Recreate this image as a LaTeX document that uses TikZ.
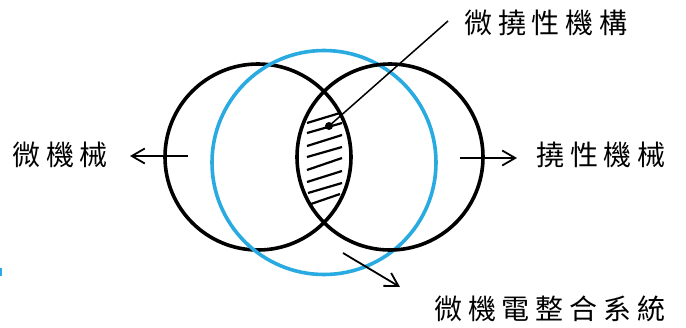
\documentclass[tikz,border=0pt]{standalone}
\usepackage{fontspec}
\newfontfamily\cjk[LetterSpace=21]{Noto Sans CJK TC}
\usetikzlibrary{arrows.meta}
\definecolor{ringblue}{HTML}{29AAE1}
\begin{document}
\begin{tikzpicture}[x=1pt,y=-1pt,
  ring/.style={circle, draw=black, line width=3.6pt, inner sep=0pt, minimum size=186pt},
  bluering/.style={circle, draw=ringblue, line width=3.6pt, inner sep=0pt, minimum size=224pt},
  arr/.style={line width=1.8pt, -{Straight Barb[length=13pt,width=15pt]}},
  hatch/.style={line width=2.2pt},
  lead/.style={line width=1.5pt},
  lbl/.style={inner sep=0pt, anchor=west, font=\cjk\fontsize{28}{31}\selectfont}]
\useasboundingbox (0,0) rectangle (686,327);
% rings
\node[ring] (L) at (258,157) {};
\node[bluering] (B) at (324,162.5) {};
\node[ring] (R) at (390,157) {};
% hatching in lens
\foreach \ya/\yb/\xa/\xb in {123/113/307/340, 133/123/307/342, 146/135/307/342, 157/147/307/342, 170/158/307/342, 182/171/307/342, 193/183/308/342, 204/194/311/340}
  \draw[hatch] (\xa,\ya) -- (\xb,\yb);
% dot and leader
\node[circle, fill=black, inner sep=0pt, minimum size=8pt] (dot) at (329,126) {};
\coordinate (leadend) at (448,21);
\draw[lead] (dot.center) -- (leadend);
% labels
\node[lbl] (t1) at (464,22.5) {微撓性機構};
\node[lbl] (t2) at (12,155) {微機械};
\node[lbl] (t3) at (536,155) {撓性機械};
\node[lbl] (t4) at (434,309) {微機電整合系統};
% arrows
\coordinate (la) at (188,156);
\coordinate (lb) at (130,156);
\draw[arr] (la) -- (lb);
\coordinate (ra) at (460,158);
\coordinate (rb) at (517,158);
\draw[arr] (ra) -- (rb);
\coordinate (ba) at (343,253);
\coordinate (bb) at (400,287);
\draw[arr] (ba) -- (bb);
% tiny blue mark at left edge
\draw[ringblue, line width=1.5pt] (0.8,268) -- (0.8,276);
\end{tikzpicture}
\end{document}
